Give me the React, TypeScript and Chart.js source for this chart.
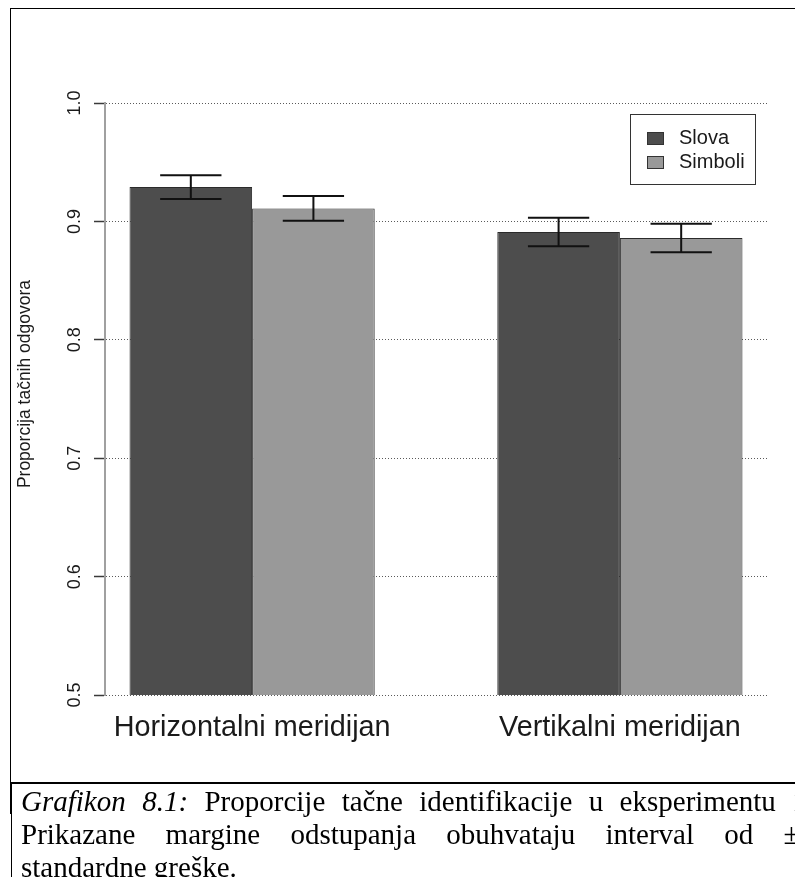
import React, { useEffect, useRef } from 'react';
import { Chart, registerables } from 'chart.js';

Chart.register(...registerables);

// Categories, series and standard errors
const categories = ['Horizontalni meridijan', 'Vertikalni meridijan'];
const seriesLabels = ['Slova', 'Simboli'];
const slovaValues = [0.929, 0.891];
const simboliValues = [0.911, 0.886];
const slovaErrors = [0.01, 0.012];
const simboliErrors = [0.0105, 0.012];
const yTickValues = [0.5, 0.6, 0.7, 0.8, 0.9, 1.0];
const yAxisTitle = 'Proporcija tačnih odgovora';

const captionLabel = 'Grafikon 8.1:';
const captionLine1 = 'Proporcije tačne identifikacije u eksperimentu 1.';
const captionLine2 = 'Prikazane margine odstupanja obuhvataju interval od ±1';
const captionLine3 = 'standardne greške.';

const SANS = '"Liberation Sans", Arial, Helvetica, sans-serif';
const SERIF = '"Liberation Serif", "Times New Roman", serif';
const fills = ['#4d4d4d', '#999999'];
const seriesValues = [slovaValues, simboliValues];
const seriesErrors = [slovaErrors, simboliErrors];

const CANVAS_W = 795;
const CANVAS_H = 775;

// Standard-error whiskers on top of each bar
const errorBarsPlugin = {
  id: 'errorBars',
  afterDatasetsDraw(chart: any) {
    const { ctx } = chart;
    const yScale = chart.scales.y;
    chart.data.datasets.forEach((ds: any, di: number) => {
      const meta = chart.getDatasetMeta(di);
      const errs = seriesErrors[di];
      meta.data.forEach((bar: any, i: number) => {
        const v = ds.data[i].y;
        const top = yScale.getPixelForValue(v + errs[i]);
        const bot = yScale.getPixelForValue(v - errs[i]);
        const half = bar.width / 4;
        ctx.save();
        ctx.strokeStyle = '#111111';
        ctx.lineWidth = 2;
        ctx.beginPath();
        ctx.moveTo(bar.x, top);
        ctx.lineTo(bar.x, bot);
        ctx.moveTo(bar.x - half, top);
        ctx.lineTo(bar.x + half, top);
        ctx.moveTo(bar.x - half, bot);
        ctx.lineTo(bar.x + half, bot);
        ctx.stroke();
        ctx.restore();
      });
    });
  },
};

// Rotated y tick labels, y title and the boxed legend
const decorPlugin = {
  id: 'decor',
  afterDraw(chart: any) {
    const { ctx, chartArea } = chart;
    const yScale = chart.scales.y;

    ctx.save();
    ctx.fillStyle = '#1a1a1a';
    ctx.font = `18px ${SANS}`;
    ctx.textAlign = 'center';
    ctx.textBaseline = 'alphabetic';
    yScale.ticks.forEach((t: any) => {
      const py = yScale.getPixelForValue(t.value);
      ctx.save();
      ctx.translate(chartArea.left - 25, py);
      ctx.rotate(-Math.PI / 2);
      ctx.fillText(Number(t.value).toFixed(1), 0, 0);
      ctx.restore();
    });

    ctx.font = `17.5px ${SANS}`;
    ctx.save();
    ctx.translate(chartArea.left - 75, (chartArea.top + chartArea.bottom) / 2 - 15);
    ctx.rotate(-Math.PI / 2);
    ctx.fillText(yAxisTitle, 0, 0);
    ctx.restore();
    ctx.restore();

    // legend
    const boxW = 125;
    const boxH = 70;
    const bx = chartArea.right - 12 - boxW;
    const by = chartArea.top + 11;
    ctx.save();
    ctx.fillStyle = '#ffffff';
    ctx.fillRect(bx, by, boxW, boxH);
    ctx.strokeStyle = '#333333';
    ctx.lineWidth = 1;
    ctx.strokeRect(bx + 0.5, by + 0.5, boxW, boxH);
    ctx.font = `20px ${SANS}`;
    ctx.textAlign = 'left';
    ctx.textBaseline = 'middle';
    chart.data.datasets.forEach((ds: any, i: number) => {
      const cy = by + 24.5 + i * 24;
      ctx.fillStyle = ds.backgroundColor;
      ctx.fillRect(bx + 17, cy - 6.5, 17, 13);
      ctx.strokeStyle = '#333333';
      ctx.strokeRect(bx + 17.5, cy - 6, 16, 12);
      ctx.fillStyle = '#1a1a1a';
      ctx.fillText(ds.label, bx + 49, cy);
    });
    ctx.restore();
  },
};

function BarChart() {
  const ref = useRef<HTMLCanvasElement | null>(null);

  useEffect(() => {
    if (!ref.current) return;
    const chart = new Chart(ref.current, {
      type: 'bar',
      data: {
        datasets: seriesLabels.map((label, s) => ({
          label,
          data: seriesValues[s].map((v, i) => ({ x: i, y: v })),
          backgroundColor: fills[s],
          borderColor: '#2b2b2b',
          borderWidth: 1,
          borderSkipped: false,
          categoryPercentage: 2 / 3,
          barPercentage: 1,
        })),
      },
      options: {
        responsive: false,
        animation: false,
        events: [],
        layout: { padding: { left: 86, right: 36, top: 95, bottom: 21.8 } },
        plugins: {
          legend: { display: false },
          tooltip: { enabled: false },
          title: { display: false },
        },
        scales: {
          x: {
            type: 'linear',
            min: -0.4,
            max: 1.4,
            offset: false,
            afterBuildTicks: (scale: any) => {
              scale.ticks = categories.map((_, i) => ({ value: i }));
            },
            ticks: {
              callback: (v: any) => categories[v] ?? '',
              autoSkip: false,
              maxRotation: 0,
              minRotation: 0,
              padding: 15.8,
              color: '#1a1a1a',
              font: { family: SANS, size: 28.8 },
            },
            grid: { display: false, drawTicks: false, offset: false },
            border: { display: false },
          },
          y: {
            min: 0.5,
            max: 1.0,
            beginAtZero: false,
            afterBuildTicks: (scale: any) => {
              scale.ticks = yTickValues.map((v) => ({ value: v }));
            },
            ticks: { display: false },
            grid: {
              color: '#5a5a5a',
              lineWidth: 1,
              drawTicks: true,
              tickLength: 11,
              tickColor: '#3a3a3a',
              tickWidth: 1.5,
              tickBorderDash: [],
            },
            border: { display: true, color: '#a0a0a0', width: 2, dash: [1, 2] },
          },
        },
      } as any,
      plugins: [errorBarsPlugin, decorPlugin],
    });
    return () => chart.destroy();
  }, []);

  return (
    <canvas
      ref={ref}
      width={CANVAS_W}
      height={CANVAS_H}
      style={{ position: 'absolute', left: 0, top: 0, width: CANVAS_W, height: CANVAS_H }}
    />
  );
}

export default function App() {
  const lineStyle: React.CSSProperties = {
    height: 33,
    lineHeight: '33px',
    whiteSpace: 'nowrap',
  };
  const justified: React.CSSProperties = {
    ...lineStyle,
    width: 793,
    textAlign: 'justify',
    textAlignLast: 'justify' as any,
  };
  return (
    <div
      style={{
        position: 'relative',
        width: 795,
        height: 877,
        marginBottom: -8,
        overflow: 'hidden',
        background: '#ffffff',
      }}
    >
      <div
        style={{
          position: 'absolute',
          left: 2,
          top: 0,
          width: 900,
          height: 805,
          borderTop: '1.5px solid #000',
          borderLeft: '1.5px solid #000',
        }}
      />
      <BarChart />
      <div
        style={{
          position: 'absolute',
          left: 3,
          top: 774,
          width: 900,
          height: 200,
          borderTop: '2px solid #000',
          borderLeft: '1.5px solid #000',
        }}
      />
      <div
        style={{
          position: 'absolute',
          left: 13,
          top: 777,
          fontFamily: SERIF,
          fontSize: 29,
          color: '#000',
        }}
      >
        <div style={justified}>
          <i>{captionLabel}</i> {captionLine1}
        </div>
        <div style={justified}>{captionLine2}</div>
        <div style={lineStyle}>{captionLine3}</div>
      </div>
    </div>
  );
}
